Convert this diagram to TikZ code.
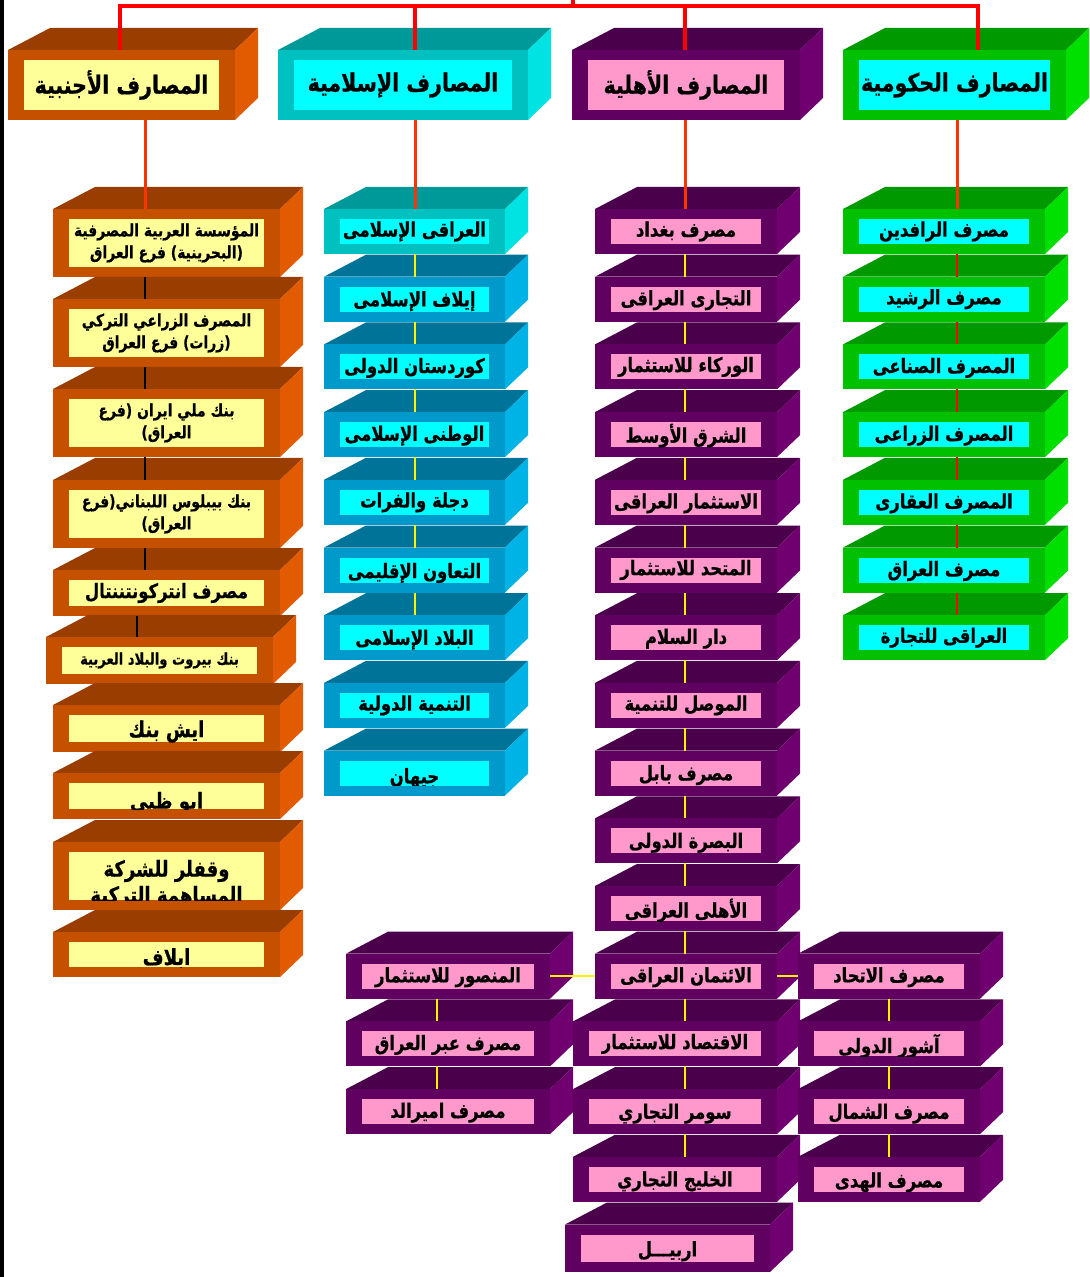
\documentclass[tikz,border=0pt]{standalone}
\usepackage{fontspec}
\usepackage{tikz}
\usetikzlibrary{calc}
\newfontfamily\arb[Script=Arabic, FakeStretch=0.82, BoldFeatures={FakeBold=0.6}]{DejaVu Sans}
\TeXXeTstate=1
\definecolor{forF}{HTML}{C45000}
\definecolor{forT}{HTML}{993D00}
\definecolor{forR}{HTML}{E35B00}
\definecolor{forI}{HTML}{FFFF99}
\definecolor{isHF}{HTML}{00C0C0}
\definecolor{isHT}{HTML}{009999}
\definecolor{isHR}{HTML}{00E3E3}
\definecolor{isHI}{HTML}{00FFFF}
\definecolor{islF}{HTML}{0099CC}
\definecolor{islT}{HTML}{007399}
\definecolor{islR}{HTML}{00B3E6}
\definecolor{islI}{HTML}{00FFFF}
\definecolor{ahlF}{HTML}{600060}
\definecolor{ahlT}{HTML}{4B004B}
\definecolor{ahlR}{HTML}{700070}
\definecolor{ahlI}{HTML}{FF99CC}
\definecolor{govF}{HTML}{00C000}
\definecolor{govT}{HTML}{009900}
\definecolor{govR}{HTML}{00E000}
\definecolor{govI}{HTML}{00FFFF}
\definecolor{feedred}{HTML}{FF3300}
\tikzset{
  lab/.style={font=\arb\bfseries\fontsize{10}{12}\selectfont, text=black, align=center, inner sep=0pt},
  labh/.style={font=\arb\bfseries\fontsize{12.5}{14}\selectfont},
  labb/.style={font=\arb\bfseries\fontsize{11}{13}\selectfont},
  labs/.style={font=\arb\bfseries\fontsize{8.5}{11}\selectfont},
  labxs/.style={font=\arb\bfseries\fontsize{8}{9}\selectfont},
  bus/.style={draw=red, line width=2pt},
  feed/.style={draw=feedred, line width=1.5pt},
  redlink/.style={draw=red, line width=1pt},
  yellink/.style={draw=yellow, line width=1pt},
  blklink/.style={draw=black, line width=1pt},
}
\newcommand\artxt[1]{\beginR#1\endR}
% name, left, top, right, bottom, colours, label options, text
\newcommand\bankbox[8]{%
  \fill[#6T] (#2,#3) -- (#2+42,#3-22) -- (#4+23,#3-22) -- (#4,#3) -- cycle;
  \fill[#6R] (#4,#3) -- (#4+23,#3-22) -- (#4+23,#5-22) -- (#4,#5) -- cycle;
  \fill[#6F] (#2,#3) rectangle (#4,#5);
  \fill[#6I] (#2+16,#3+10) rectangle (#4-16,#5-10);
  \coordinate (#1-n) at ({(#2+#4)/2},#3);
  \coordinate (#1-s) at ({(#2+#4)/2},#5);
  \coordinate (#1-w) at (#2,{(#3+#5)/2});
  \coordinate (#1-e) at (#4,{(#3+#5)/2});
  \begin{scope}
    \clip (#2+16,#3+10) rectangle (#4-16,#5-10);
    \node[lab,#7] (#1) at ({(#2+#4)/2},{(#3+#5)/2}) {#8};
  \end{scope}
}
\begin{document}
\begin{tikzpicture}[x=0.5pt,y=-0.5pt]
  \useasboundingbox (0,0) rectangle (1089,1277);
  \draw[line width=2.5pt] (1.5,0) -- (1.5,1277);

  % headers
  \bankbox{hF}{8}{50}{235}{120}{for}{labh}{\artxt{المصارف الأجنبية}}
  \bankbox{hI}{278}{50}{528}{120}{isH}{labh}{\artxt{المصارف الإسلامية}}
  \bankbox{hA}{572}{50}{800}{120}{ahl}{labh}{\artxt{المصارف الأهلية}}
  \bankbox{hG}{843}{50}{1066}{120}{gov}{labh}{\artxt{المصارف الحكومية}}

  % foreign banks
  \bankbox{f1}{53}{209}{280}{277}{for}{labs}{\artxt{المؤسسة العربية المصرفية}\\\artxt{(البحرينية) فرع العراق}}
  \bankbox{f2}{53}{299}{280}{367}{for}{labs}{\artxt{المصرف الزراعي التركي}\\\artxt{(زرات)  فرع العراق}}
  \bankbox{f3}{53}{389}{280}{457}{for}{labs}{\artxt{بنك ملي ايران (فرع}\\\artxt{العراق)}}
  \bankbox{f4}{53}{480}{280}{548}{for}{labs}{\artxt{بنك بيبلوس اللبناني(فرع}\\\artxt{العراق)}}
  \bankbox{f5}{53}{570}{280}{616}{for}{}{\artxt{مصرف انتركونتننتال}}
  \bankbox{f6}{46}{637}{273}{684}{for}{labxs}{\artxt{بنك بيروت والبلاد العربية}}
  \bankbox{f7}{53}{705}{280}{752}{for}{labb,yshift=-1.5pt}{\artxt{ايش بنك}}
  \bankbox{f8}{53}{773}{280}{819}{for}{labb,yshift=-3.5pt}{\artxt{ابو ظبي}}
  \bankbox{f9}{53}{842}{280}{910}{for}{labb,yshift=-4pt}{\artxt{وقفلر للشركة}\\\artxt{المساهمة التركية}}
  \bankbox{f10}{53}{932}{280}{977}{for}{labb,yshift=-2pt}{\artxt{ابلاف}}

  % islamic banks
  \bankbox{i1}{324}{209}{505}{254}{isH}{}{\artxt{العراقى الإسلامى}}
  \foreach \t/\s [count=\k from 2] in {إيلاف الإسلامى/1, كوردستان الدولى/0.5,
      الوطنى الإسلامى/0.5, دجلة والفرات/0, التعاون الإقليمى/1.5, البلاد الإسلامى/1,
      التنمية الدولية/0, جيهان/2.5}{
    \pgfmathsetmacro\yt{209+67.7*(\k-1)}
    \bankbox{i\k}{324}{\yt}{505}{\yt+45}{isl}{yshift=-\s*1pt}{\artxt{\t}}
  }

  % private banks
  \foreach \t/\s [count=\k] in {مصرف بغداد/0, التجارى العراقى/0.5, الوركاء للاستثمار/0,
      الشرق الأوسط/0.5, الاستثمار العراقى/0.5, المتحد للاستثمار/0, دار السلام/0.5,
      الموصل للتنمية/0, مصرف بابل/1, البصرة الدولى/1, الأهلى العراقى/1,
      الائتمان العراقى/0.5}{
    \pgfmathsetmacro\yt{209+67.7*(\k-1)}
    \bankbox{a\k}{595}{\yt}{777}{\yt+45}{ahl}{yshift=-\s*1pt}{\artxt{\t}}
  }
  \foreach \t/\s [count=\k from 13] in {الاقتصاد للاستثمار/0, سومر التجاري/1, الخليج التجاري/1}{
    \pgfmathsetmacro\yt{209+67.7*(\k-1)}
    \bankbox{a\k}{573}{\yt}{777}{\yt+45}{ahl}{yshift=-\s*1pt}{\artxt{\t}}
  }
  \bankbox{a16}{565}{1224.5}{770}{1272}{ahl}{yshift=-1.5pt}{\artxt{اربيـــل}}
  \foreach \t/\s [count=\k] in {المنصور للاستثمار/0.5, مصرف عبر العراق/0.5, مصرف اميرالد/0.5}{
    \pgfmathsetmacro\yt{209+67.7*(\k+10)}
    \bankbox{l\k}{346}{\yt}{550}{\yt+45}{ahl}{yshift=-\s*1pt}{\artxt{\t}}
  }
  \foreach \t/\s [count=\k] in {مصرف الاتحاد/0.5, آشور الدولى/1, مصرف الشمال/1, مصرف الهدى/1.5}{
    \pgfmathsetmacro\yt{209+67.7*(\k+10)}
    \bankbox{r\k}{798}{\yt}{980}{\yt+45}{ahl}{yshift=-\s*1pt}{\artxt{\t}}
  }

  % government banks
  \foreach \t/\s [count=\k] in {مصرف الرافدين/0, مصرف الرشيد/0, المصرف الصناعى/0.5,
      المصرف الزراعى/0.5, المصرف العقارى/0.5, مصرف العراق/0.5, العراقى للتجارة/0}{
    \pgfmathsetmacro\yt{209+67.7*(\k-1)}
    \bankbox{g\k}{843}{\yt}{1045}{\yt+45}{gov}{yshift=-\s*1pt}{\artxt{\t}}
  }

  % connectors
  \coordinate (root) at (573,0);
  \coordinate (tF) at (120,6);
  \coordinate (tI) at (415,6);
  \coordinate (tA) at (685,6);
  \coordinate (tG) at (978,6);
  \coordinate (fx) at (145,0);
  \coordinate (fy) at (137,0);
  \coordinate (ix) at (415,0);
  \coordinate (ax) at (685,0);
  \coordinate (gx) at (957,0);
  \coordinate (lx) at (437,0);
  \coordinate (rx) at (889,0);
  \draw[bus] (hF-n -| tF) -- (tF) -- (tG) -- (hG-n -| tG);
  \draw[bus] (hI-n -| tI) -- (tI);
  \draw[bus] (hA-n -| tA) -- (tA);
  \draw[bus] (root) -- (root |- tF);
  \draw[feed] (hF-s -| fx) -- (f1-n -| fx);
  \draw[feed] (hI-s -| ix) -- (i1-n -| ix);
  \draw[feed] (hA-s -| ax) -- (a1-n -| ax);
  \draw[feed] (hG-s -| gx) -- (g1-n -| gx);
  \foreach \k [remember=\k as \p (initially 1)] in {2,...,5}
    \draw[blklink] (f\p-s -| fx) -- (f\k-n -| fx);
  \draw[blklink] (f5-s -| fy) -- (f6-n -| fy);
  \foreach \k [remember=\k as \p (initially 1)] in {2,...,7}
    \draw[yellink] (i\p-s -| ix) -- (i\k-n -| ix);
  \foreach \k [remember=\k as \p (initially 1)] in {2,...,15}
    \draw[yellink] (a\p-s -| ax) -- (a\k-n -| ax);
  \foreach \k [remember=\k as \p (initially 1)] in {2,3}
    \draw[yellink] (l\p-s -| lx) -- (l\k-n -| lx);
  \foreach \k [remember=\k as \p (initially 1)] in {2,...,4}
    \draw[yellink] (r\p-s -| rx) -- (r\k-n -| rx);
  \draw[yellink] (l1-e) -- (a12-w);
  \draw[yellink] (a12-e) -- (r1-w);
  \foreach \k [remember=\k as \p (initially 1)] in {2,...,7}
    \draw[redlink] (g\p-s -| gx) -- (g\k-n -| gx);
\end{tikzpicture}
\end{document}
